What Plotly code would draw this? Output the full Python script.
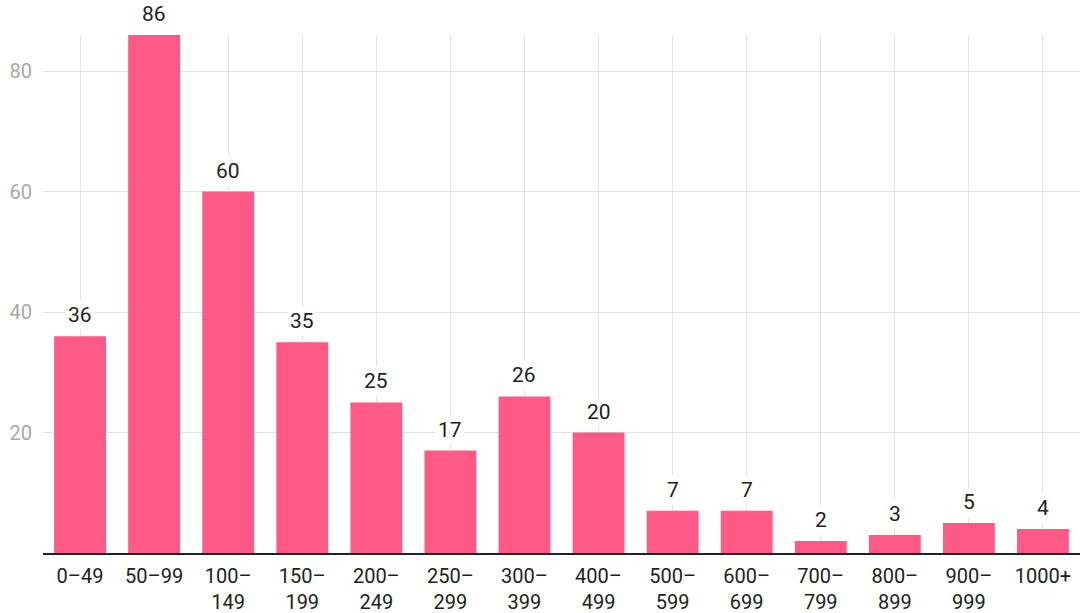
import plotly.graph_objects as go

categories = ["0–49", "50–99", "100–<br>149", "150–<br>199", "200–<br>249", "250–<br>299",
              "300–<br>399", "400–<br>499", "500–<br>599", "600–<br>699", "700–<br>799",
              "800–<br>899", "900–<br>999", "1000+"]
values = [36, 86, 60, 35, 25, 17, 26, 20, 7, 7, 2, 3, 5, 4]
y_ticks = [20, 40, 60, 80]

fig = go.Figure()
fig.add_trace(go.Bar(
    x=list(range(len(categories))), y=values,
    marker=dict(color="#FF5A87", line=dict(width=0)),
    width=0.7, hoverinfo="skip", showlegend=False,
))

for i, v in enumerate(values):
    fig.add_annotation(x=i, y=v, text=str(v), showarrow=False, yanchor="bottom",
                       yshift=6, bgcolor="white", borderpad=2,
                       font=dict(family="Roboto", size=21, color="#212121"))

fig.update_layout(
    width=1080, height=613,
    margin=dict(l=43, r=0, t=35, b=60),
    plot_bgcolor="white", paper_bgcolor="white",
    bargap=0.3,
    font=dict(family="Roboto"),
)
fig.update_xaxes(
    tickmode="array", tickvals=list(range(len(categories))), ticktext=categories,
    range=[-0.5, len(categories) - 0.5],
    showgrid=True, gridcolor="#e2e2e2", gridwidth=1,
    showline=True, linecolor="#222222", linewidth=2,
    ticks="", tickfont=dict(family="Roboto", size=20, color="#212121"),
    ticklabelstandoff=4,
    fixedrange=True,
)
fig.update_yaxes(
    range=[0, 86], tickvals=y_ticks, ticktext=[str(t) for t in y_ticks],
    showgrid=True, gridcolor="#e2e2e2", gridwidth=1,
    zeroline=False, showline=False, ticks="",
    tickfont=dict(family="Roboto", size=20, color="#a8a8a8"),
    ticklabelstandoff=10,
    fixedrange=True,
)
fig.update_traces(cliponaxis=False)
fig.write_html("out.html")
